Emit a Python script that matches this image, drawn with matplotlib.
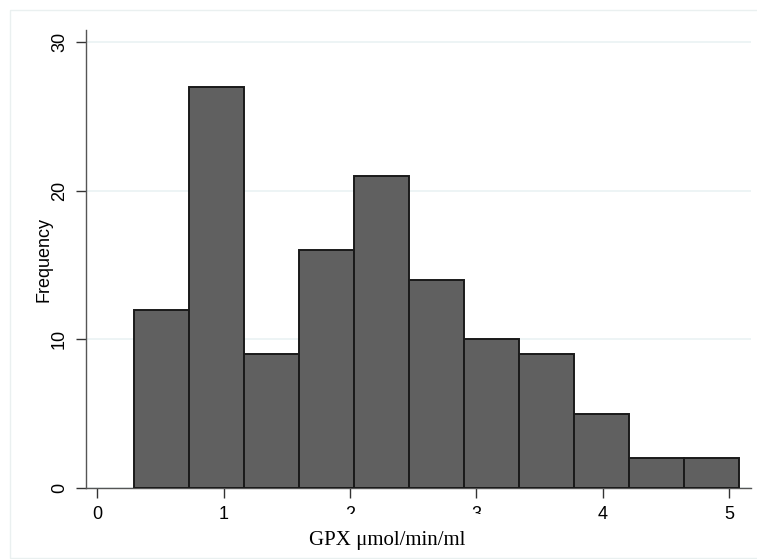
import matplotlib.pyplot as plt
from matplotlib.patches import Rectangle

# histogram bins
bin_start = 0.291
bin_width = 0.4353
counts = [12, 27, 9, 16, 21, 14, 10, 9, 5, 2, 2]
x_ticks = [0, 1, 2, 3, 4, 5]
y_ticks = [0, 10, 20, 30]

edges = [bin_start + i * bin_width for i in range(len(counts))]

fig = plt.figure(figsize=(7.57, 5.59), dpi=100)
fig.patches.append(Rectangle((10 / 757, 1 - 558 / 559), 760 / 757, 548 / 559,
                             transform=fig.transFigure, fill=False,
                             edgecolor='#eaf0f0', linewidth=1.0))

ax = fig.add_axes([86 / 757, 1 - 488 / 559, 665 / 757, 458 / 559])
ax.bar(edges, counts, width=bin_width, align='edge', color='#606060',
       edgecolor='#1a1a1a', linewidth=1.4, zorder=3)

ax.set_xlim(-0.09, 5.175)
ax.set_ylim(0, 30.8)
ax.set_xticks(x_ticks)
ax.set_yticks(y_ticks)
ax.grid(axis='y', color='#eaf2f3', linewidth=1.2, zorder=0)

for s in ['top', 'right']:
    ax.spines[s].set_visible(False)
for s in ['left', 'bottom']:
    ax.spines[s].set_color('#555555')
    ax.spines[s].set_linewidth(1.0)

ax.tick_params(direction='out', length=7, width=1, color='#333333',
               labelsize=13, pad=6)
for lab in ax.get_yticklabels():
    lab.set_rotation(90)
    lab.set_va('center')
for lab in ax.get_xticklabels() + ax.get_yticklabels():
    lab.set_family('Liberation Sans')

ax.set_ylabel('Frequency', family='Liberation Sans', fontsize=13, labelpad=-1)

# x title sits a bit left of centre; its white box clips the "2" and "3" labels
fig.patches.append(Rectangle((294 / 757, 1 - 552 / 559), 190 / 757, 38 / 559,
                             transform=fig.transFigure, facecolor='white',
                             edgecolor='none', zorder=5))
fig.text(387.5 / 757, 1 - 545 / 559, 'GPX \u03bcmol/min/ml', family='Liberation Serif',
         fontsize=15, ha='center', va='baseline', zorder=10)

fig.savefig('out.png', dpi=100)
